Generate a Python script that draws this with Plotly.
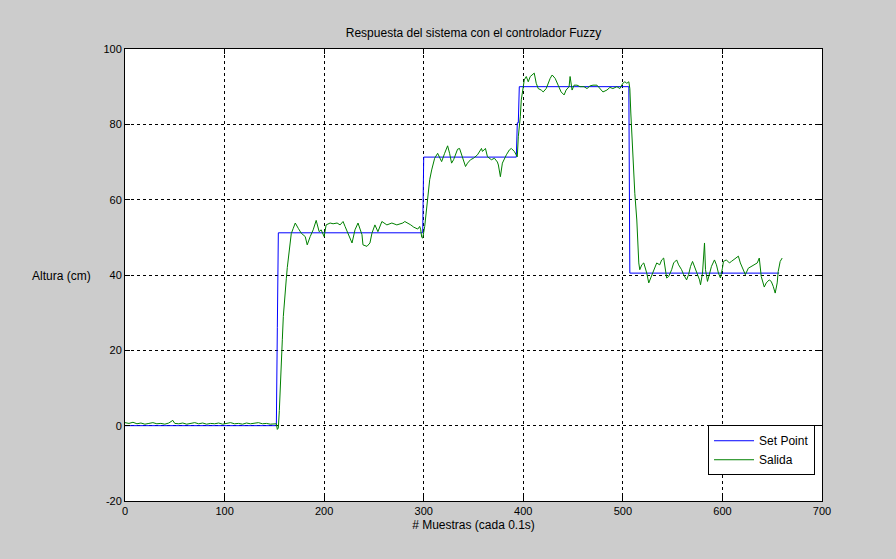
import plotly.graph_objects as go

# ---- data ----
sp_x = [0, 152, 153, 154, 299, 300, 393, 394, 395, 396, 506, 507, 657]
sp_y = [0, 0, 26, 51.2, 51.2, 71.3, 71.3, 80.4, 80.4, 90, 90, 40.5, 40.5]

out_x = [0, 4, 8, 12, 16, 20, 24, 28, 32, 36, 40, 44, 48, 50, 54, 58, 62, 66, 70, 74,
         78, 82, 86, 90, 94, 98, 102, 106, 110, 114, 118, 122, 126, 130, 134, 138, 142,
         146, 150, 152, 153, 154, 155, 156, 157, 158, 159, 160, 161, 162, 163, 164, 165,
         166, 167, 169, 171, 174, 177, 181, 183, 186, 189, 192, 195, 197, 200, 202, 206,
         209, 213, 216, 219, 221, 224, 228, 231, 234, 238, 239, 243, 246, 248, 251, 254,
         258, 263, 268, 273, 279, 281, 284, 287, 290, 294, 296, 297, 298, 299, 301, 302,
         303, 304, 306, 308, 310, 311, 314, 316, 318, 321, 324, 326, 328, 330, 332, 334,
         336, 338, 340, 342, 344, 347, 350, 354, 358, 359, 362, 364, 368, 371, 374, 375,
         377, 379, 383, 386, 388, 391, 394, 395, 397, 398, 400, 401, 403, 405, 407, 409,
         411, 413, 415, 418, 420, 423, 425, 427, 429, 432, 435, 438, 441, 443, 446, 447,
         449, 451, 454, 457, 461, 464, 467, 470, 474, 477, 480, 484, 487, 490, 494, 497,
         500, 502, 504, 506, 507, 508, 509, 510, 512, 514, 515, 516, 517, 519, 521, 524,
         526, 528, 530, 532, 534, 537, 539, 541, 544, 546, 549, 551, 554, 556, 559, 561,
         564, 566, 568, 570, 572, 575, 577, 578, 580, 582, 583, 585, 587, 589, 592, 594,
         596, 598, 600, 601, 604, 607, 609, 613, 616, 618, 621, 623, 626, 629, 632, 635,
         637, 639, 642, 644, 647, 649, 651, 653, 655, 656, 658, 660]
out_y = [0.8, 0.6, 0.9, 0.5, 0.7, 0.4, 0.6, 0.8, 0.5, 0.6, 0.4, 0.7, 1.4, 0.6, 0.5, 0.7,
         0.4, 0.6, 0.8, 0.5, 0.7, 0.4, 0.6, 0.5, 0.7, 0.4, 0.6, 0.8, 0.5, 0.6, 0.4, 0.7,
         0.5, 0.6, 0.8, 0.5, 0.6, 0.4, 0.6, 0.5, -1.0, -0.6, 4, 12, 17, 22.8, 29, 33, 36.5,
         39, 42, 44.3, 47, 49.5, 51, 52.4, 53.8, 52.4, 51.1, 50.2, 48, 50.2, 52, 54.5, 51.5,
         52, 50.2, 53.3, 53.8, 53.6, 53.8, 53.3, 54.2, 52.9, 51.1, 48.5, 52, 53.8, 50.7, 48,
         47.6, 48.5, 51.1, 53.3, 51.5, 54.2, 53.3, 53.8, 53.3, 53.8, 54.2, 53.8, 53.3, 52.7,
         52.2, 52.9, 52, 50, 49.8, 52.9, 55.5, 59, 61.7, 65.3, 67.9, 69.7, 71, 72.3, 71,
         70.1, 72.3, 74.3, 72.3, 69.7, 70.6, 72, 73.4, 73.6, 71.9, 70, 68.8, 69.7, 70.6, 71,
         71.9, 73.6, 72.8, 73.6, 71.4, 70.6, 71, 70, 69.2, 66.1, 69.7, 71.9, 73.2, 73.6,
         72.8, 71.4, 76.7, 82, 86.5, 90, 91.8, 92.7, 91.3, 92.7, 93.1, 93.6, 90.9, 89.5,
         89.1, 88.6, 89.5, 90.9, 92.2, 93.1, 92.2, 90.4, 88.6, 87.8, 89.1, 90, 92.7, 89.1,
         90.4, 90.4, 90, 90, 89.5, 90.2, 90.4, 90.4, 89.5, 88.6, 89.1, 89.8, 89.5, 90, 89.5,
         90.9, 91.3, 90.9, 91.3, 89.5, 83, 76.7, 69.7, 61.7, 54.6, 48.5, 43.2, 41.4, 42.7,
         43.2, 40.5, 37.9, 39.2, 40.5, 42.3, 43.2, 42.7, 44, 44.5, 39.2, 39.6, 41.4, 43.2,
         44, 42.7, 41.4, 40.1, 38.7, 40.1, 42.3, 43.6, 42.3, 40.5, 38.7, 37.4, 40.5, 48.5,
         41.4, 38.3, 40.5, 42.3, 44, 42.7, 40.5, 39.2, 41.8, 43.6, 44, 43.2, 43.6, 44.5, 45,
         43.2, 41.4, 40.1, 41.8, 42.3, 42.7, 43.2, 44.5, 39.6, 36.8, 37.9, 38.7, 38.3, 37,
         35.2, 37.9, 40.9, 43.6, 44.5]

x_ticks = [0, 100, 200, 300, 400, 500, 600, 700]
y_ticks = [-20, 0, 20, 40, 60, 80, 100]

title_text = "Respuesta del sistema con el controlador Fuzzy"
x_label = "# Muestras (cada 0.1s)"
y_label = "Altura (cm)"

FONT = "Liberation Sans, Arial, sans-serif"

fig = go.Figure()
fig.add_trace(go.Scatter(x=sp_x, y=sp_y, mode="lines", name="Set Point",
                         line=dict(color="#0000ff", width=1)))
fig.add_trace(go.Scatter(x=out_x, y=out_y, mode="lines", name="Salida",
                         line=dict(color="#008000", width=1)))

axis_common = dict(showline=True, linecolor="black", linewidth=1, mirror="ticks",
                   ticks="inside", ticklen=5, tickcolor="black",
                   showgrid=True, gridcolor="black", gridwidth=1, griddash="3px,3px",
                   zeroline=False, tickfont=dict(family=FONT, size=11, color="black"))

fig.update_xaxes(range=[0, 700], tickvals=x_ticks, ticktext=[str(v) for v in x_ticks],
                 title=dict(text=x_label, font=dict(family=FONT, size=12, color="black"),
                            standoff=4),
                 **axis_common)
fig.update_yaxes(range=[-20, 100], tickvals=y_ticks, ticktext=[str(v) for v in y_ticks],
                 **axis_common)

fig.update_layout(
    width=896, height=559,
    margin=dict(l=125, r=74, t=49, b=58),
    paper_bgcolor="#cccccc", plot_bgcolor="white",
    font=dict(family=FONT, size=11, color="black"),
    title=dict(text=title_text, x=(125 + 822) / 2 / 896, xanchor="center",
               y=1 - 33 / 559, yanchor="middle",
               font=dict(family=FONT, size=12, color="black")),
    showlegend=True,
    legend=dict(x=0.99, y=0.057, xanchor="right", yanchor="bottom",
                bgcolor="white", bordercolor="black", borderwidth=1,
                font=dict(family=FONT, size=12, color="black"),
                tracegroupgap=0, itemwidth=40),
    annotations=[dict(text=y_label, xref="paper", yref="paper",
                      x=-0.046, y=0.498, xanchor="right", yanchor="middle",
                      showarrow=False, font=dict(family=FONT, size=12, color="black"))],
)

fig.write_html("out.html",
               config={"displayModeBar": False},
               post_script="document.body.style.margin='0';"
                           "document.body.style.background='#cccccc';"
                           "document.body.style.overflow='hidden';")
